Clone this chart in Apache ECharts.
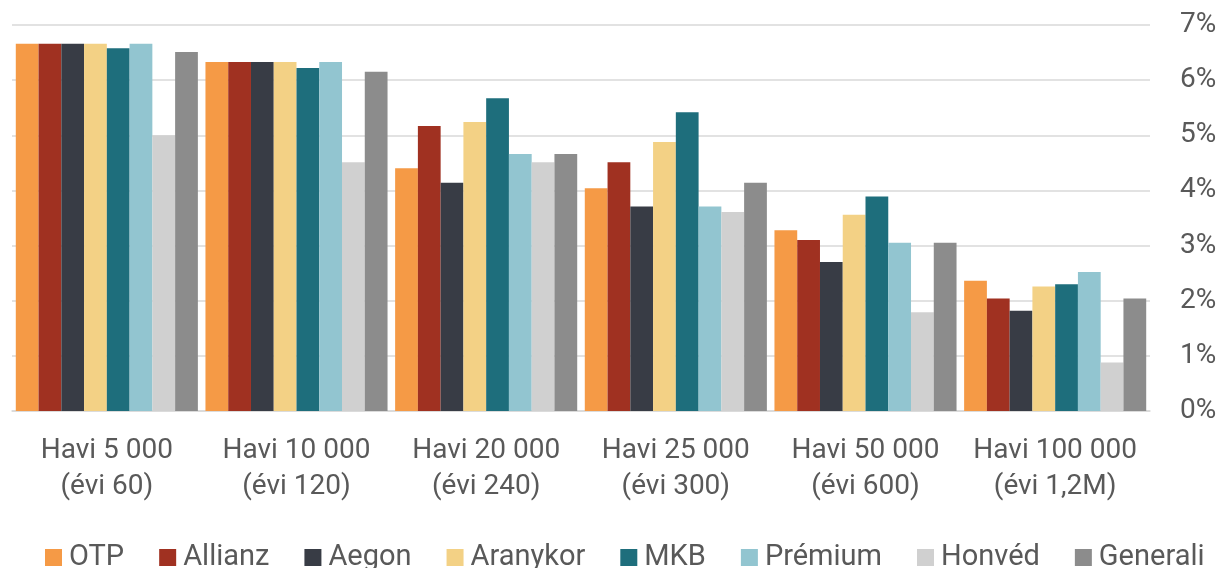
<!DOCTYPE html>
<html>
<head>
<meta charset="utf-8">
<script src="https://cdn.jsdelivr.net/npm/echarts@6/dist/echarts.min.js"></script>
<style>
html,body{margin:0;padding:0;background:#fff;}
#c{width:1223px;height:568px;}
</style>
</head>
<body>
<div id="c"></div>
<script>
const categories = ['Havi 5 000\n(évi 60)', 'Havi 10 000\n(évi 120)', 'Havi 20 000\n(évi 240)', 'Havi 25 000\n(évi 300)', 'Havi 50 000\n(évi 600)', 'Havi 100 000\n(évi 1,2M)'];
const seriesNames = ['OTP', 'Allianz', 'Aegon', 'Aranykor', 'MKB', 'Prémium', 'Honvéd', 'Generali'];
const colors = ['#F59A46', '#A03121', '#383C45', '#F3D185', '#1E6E7C', '#92C5D0', '#D0D0D0', '#8C8C8C'];
const otp      = [6.66, 6.33, 4.40, 4.04, 3.28, 2.36];
const allianz  = [6.66, 6.33, 5.17, 4.51, 3.10, 2.04];
const aegon    = [6.66, 6.33, 4.14, 3.71, 2.70, 1.82];
const aranykor = [6.66, 6.33, 5.24, 4.88, 3.56, 2.26];
const mkb      = [6.58, 6.22, 5.67, 5.42, 3.89, 2.30];
const premium  = [6.66, 6.33, 4.66, 3.71, 3.05, 2.52];
const honved   = [5.00, 4.51, 4.51, 3.61, 1.79, 0.88];
const generali = [6.51, 6.15, 4.66, 4.14, 3.05, 2.04];
const yTicks = [0, 1, 2, 3, 4, 5, 6, 7];

const values = [otp, allianz, aegon, aranykor, mkb, premium, honved, generali];

const chart = echarts.init(document.getElementById('c'), null, {renderer: 'canvas'});
chart.setOption({
  animation: false,
  backgroundColor: '#ffffff',
  textStyle: {fontFamily: 'Roboto'},
  grid: {left: 12, right: 73, top: 25, bottom: 157, containLabel: false},
  legend: {
    top: 538,
    left: 40,
    itemWidth: 17,
    itemHeight: 17,
    itemGap: 35,
    icon: 'rect',
    textStyle: {fontSize: 29, color: '#595959', fontFamily: 'Roboto', padding: [0, 0, 0, 2]},
    data: seriesNames
  },
  xAxis: {
    type: 'category',
    data: categories,
    axisTick: {show: false},
    axisLine: {lineStyle: {color: '#d9d9d9', width: 1.5}},
    axisLabel: {fontSize: 28, color: '#595959', lineHeight: 36, margin: 22, interval: 0, fontFamily: 'Roboto'}
  },
  yAxis: {
    type: 'value',
    position: 'right',
    min: yTicks[0],
    max: yTicks[yTicks.length - 1],
    interval: 1,
    axisLine: {show: false},
    axisTick: {show: false},
    splitLine: {lineStyle: {color: '#d9d9d9', width: 1.5}},
    axisLabel: {fontSize: 28, color: '#595959', margin: 30, formatter: v => v + '%', fontFamily: 'Roboto'}
  },
  series: seriesNames.map((n, i) => ({
    name: n,
    type: 'bar',
    data: values[i],
    barGap: '0%',
    barCategoryGap: '4%',
    itemStyle: {color: colors[i]}
  }))
});
</script>
</body>
</html>
